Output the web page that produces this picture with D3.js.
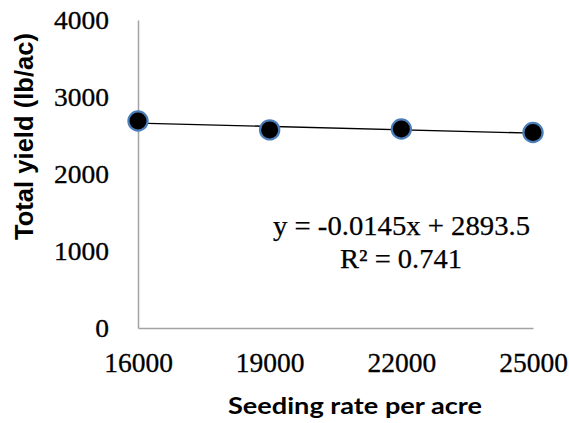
<!DOCTYPE html>
<html>
<head>
<meta charset="utf-8">
<script src="https://cdn.jsdelivr.net/npm/d3@7"></script>
<style>
  html, body { margin: 0; padding: 0; background: #fff; }
  svg { display: block; }
</style>
</head>
<body>
<svg id="chart" width="569" height="423"></svg>
<script>
// ---- data ----
const seedingRates = [16000, 19000, 22000, 25000];
const totalYield = [2688, 2573, 2585, 2539];
const xTicks = [16000, 19000, 22000, 25000];
const yTicks = [0, 1000, 2000, 3000, 4000];
const trendSlope = -0.0145;
const trendIntercept = 2893.5;
const equationLabel = "y = -0.0145x + 2893.5";
const r2Label = "R\u00B2 = 0.741";
const xTitle = "Seeding rate per acre";
const yTitle = "Total yield (lb/ac)";

// ---- layout ----
const svg = d3.select("#chart");
const x = d3.scaleLinear().domain([16000, 25000]).range([138, 533]);
const y = d3.scaleLinear().domain([0, 4000]).range([328, 20]);
const axisColor = "#a3a3a3";
const serif = "'Liberation Serif', 'Times New Roman', serif";
const charW = 13.75;

// y axis
const gy = svg.append("g")
  .attr("transform", `translate(${x.range()[0]},0)`)
  .call(d3.axisLeft(y).tickValues(yTicks).tickSize(0).tickPadding(29).tickFormat(d3.format("d")));
gy.select(".domain").attr("stroke", axisColor).attr("stroke-width", 1.5);
gy.selectAll("text")
  .attr("font-family", serif).attr("font-size", 25.5).attr("fill", "#000")
  .attr("stroke", "#000").attr("stroke-width", 0.3)
  .attr("textLength", d => String(d).length * charW)
  .attr("lengthAdjust", "spacingAndGlyphs");

// x axis
const gx = svg.append("g")
  .attr("transform", `translate(0,${y.range()[0]})`)
  .call(d3.axisBottom(x).tickValues(xTicks).tickSize(0).tickPadding(25).tickFormat(d3.format("d")));
gx.select(".domain").attr("stroke", axisColor).attr("stroke-width", 1.5);
gx.selectAll("text")
  .attr("font-family", serif).attr("font-size", 26.5).attr("fill", "#000")
  .attr("stroke", "#000").attr("stroke-width", 0.3)
  .attr("textLength", d => String(d).length * charW)
  .attr("lengthAdjust", "spacingAndGlyphs");

// trendline
const xd = x.domain();
svg.append("line")
  .attr("x1", x(xd[0])).attr("y1", y(trendSlope * xd[0] + trendIntercept))
  .attr("x2", x(xd[1])).attr("y2", y(trendSlope * xd[1] + trendIntercept))
  .attr("stroke", "#000").attr("stroke-width", 1.3);

// markers
svg.append("g").selectAll("circle")
  .data(seedingRates.map((s, i) => ({ s, v: totalYield[i] })))
  .join("circle")
  .attr("cx", d => x(d.s)).attr("cy", d => y(d.v))
  .attr("r", 9.6)
  .attr("fill", "#000")
  .attr("stroke", "#4a7ebb").attr("stroke-width", 2.2);

// equation
svg.append("text")
  .attr("x", 401.5).attr("y", 235).attr("text-anchor", "middle")
  .attr("font-family", serif).attr("font-size", 27).attr("fill", "#000")
  .attr("stroke", "#000").attr("stroke-width", 0.25)
  .attr("textLength", 257).attr("lengthAdjust", "spacingAndGlyphs")
  .text(equationLabel);
svg.append("text")
  .attr("x", 401).attr("y", 268).attr("text-anchor", "middle")
  .attr("font-family", serif).attr("font-size", 27).attr("fill", "#000")
  .attr("stroke", "#000").attr("stroke-width", 0.25)
  .attr("textLength", 122).attr("lengthAdjust", "spacingAndGlyphs")
  .text(r2Label);

// axis titles
svg.append("text")
  .attr("x", 355).attr("y", 414).attr("text-anchor", "middle")
  .attr("font-family", "Lato, 'Open Sans', sans-serif").attr("font-weight", "bold")
  .attr("font-size", 23).attr("fill", "#000")
  .attr("textLength", 254).attr("lengthAdjust", "spacingAndGlyphs")
  .text(xTitle);
svg.append("text")
  .attr("transform", "translate(33,136.5) rotate(-90)")
  .attr("text-anchor", "middle")
  .attr("font-family", "'Liberation Sans', Arial, sans-serif").attr("font-weight", "bold")
  .attr("font-size", 26).attr("fill", "#000")
  .attr("textLength", 207).attr("lengthAdjust", "spacingAndGlyphs")
  .text(yTitle);
</script>
</body>
</html>
